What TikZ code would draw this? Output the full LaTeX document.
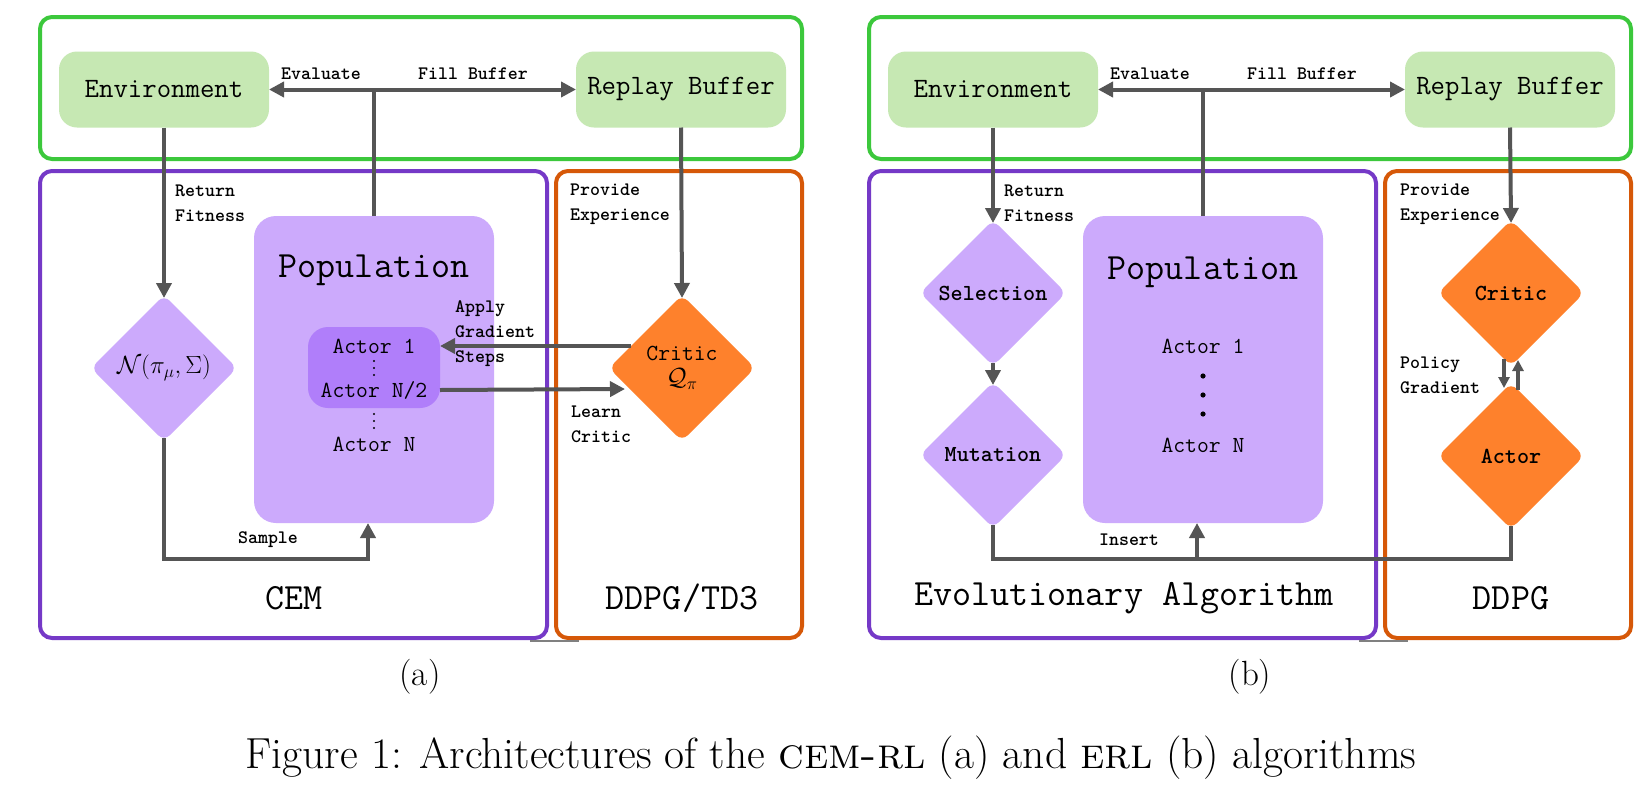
\documentclass[tikz,border=0pt]{standalone}
\usetikzlibrary{shapes.geometric,arrows.meta,calc}
\definecolor{boxgreen}{RGB}{60,200,60}
\definecolor{fillgreen}{RGB}{198,232,179}
\definecolor{boxpurple}{RGB}{117,57,199}
\definecolor{boxorange}{RGB}{214,88,8}
\definecolor{fillpurple}{RGB}{204,170,252}
\definecolor{fillpurpledark}{RGB}{176,126,250}
\definecolor{fillorange}{RGB}{254,129,44}
\definecolor{arrowgray}{RGB}{85,85,85}
\newcommand{\mono}[2]{\fontsize{#1}{#2}\selectfont\ttfamily}
\tikzset{
  panelbox/.style={line width=4pt, rounded corners=12pt},
  greenbox/.style={fill=fillgreen, rounded corners=18pt, minimum width=210pt, minimum height=76pt, inner sep=0pt, outer sep=0pt, font=\mono{28}{30}},
  popbox/.style={fill=fillpurple, rounded corners=22pt, minimum width=240pt, minimum height=307pt, inner sep=0pt, outer sep=0pt},
  innerbox/.style={fill=fillpurpledark, rounded corners=20pt, minimum width=132pt, minimum height=81pt, inner sep=0pt, outer sep=0pt},
  dia/.style={diamond, aspect=1, minimum size=146pt, inner sep=0pt, outer sep=0pt, rounded corners=8pt, align=center},
  conn/.style={draw=arrowgray, line width=4pt, -{Triangle[length=15pt,width=15pt]}},
  dconn/.style={draw=arrowgray, line width=4pt, {Triangle[length=15pt,width=15pt]}-{Triangle[length=15pt,width=15pt]}},
  sconn/.style={draw=arrowgray, line width=3.5pt, -{Triangle[length=11pt,width=11pt]}},
  plain/.style={draw=arrowgray, line width=4pt},
  todia/.style={shorten >=-3pt},
  fromdia/.style={shorten <=-3pt},
  lbl/.style={font=\mono{19}{25}\bfseries, align=left, inner sep=0pt, anchor=west},
  clbl/.style={font=\mono{19}{25}\bfseries, inner sep=0pt},
  actortxt/.style={font=\mono{23}{25}, inner sep=0pt},
  poptitle/.style={font=\mono{37}{40}, inner sep=0pt},
  paneltitle/.style={font=\mono{37}{40}, inner sep=0pt},
  captxt/.style={inner sep=0pt, anchor=base},
}
\begin{document}
\begin{tikzpicture}[x=1pt,y=-1pt]
\useasboundingbox (0,0) rectangle (1650,785);
\fill[white] (0,0) rectangle (1650,785);

% ================= panel (a) =================
\draw[panelbox, draw=boxgreen] (40,17) rectangle (802,159);
\draw[panelbox, draw=boxpurple] (40,171) rectangle (547,638);
\draw[panelbox, draw=boxorange] (556,171) rectangle (802,638);
\draw[gray, line width=1.5pt] (530,641) -- (579,641);

\node[greenbox] (envA) at (164,89.5) {Environment};
\node[greenbox] (rbA) at (681,89.5) {Replay Buffer};
\node[popbox] (popA) at (374,369.5) {};
\node[poptitle] (popAt) at (374,270) {Population};
\node[innerbox] (grpA) at (374,367.5) {};
\node[actortxt] (a1A) at (374,346) {Actor 1};
\node[actortxt] (ahA) at (374,390) {Actor N/2};
\node[actortxt] (anA) at (374,444) {Actor N};
\fill (374,361) circle (1.1pt) (374,368) circle (1.1pt) (374,375) circle (1.1pt);
\fill (374,414) circle (1.1pt) (374,421) circle (1.1pt) (374,428) circle (1.1pt);
\node[dia, fill=fillpurple, font=\fontsize{26}{30}\selectfont] (normA) at (164,368) {$\mathcal{N}(\pi_\mu,\Sigma)$};
\node[dia, fill=fillorange, font=\mono{23}{25}] (critA) at (682,368) {Critic\\$\mathcal{Q}_\pi$};

\draw[dconn] (envA.east) -- (rbA.west);
\draw[plain] (popA.north) -- (popA.north |- envA.east);
\draw[conn, todia] (envA.south) -- (normA.north);
\draw[conn, todia] (rbA.south) -- (critA.north);
\coordinate (sampA) at (368,559);
\draw[conn, fromdia] (normA.south) |- (sampA) -- (sampA |- popA.south);
\draw[conn] ($(critA.west)+(22,-22)$) -- (grpA.east |- a1A);
\draw[conn] (grpA.east |- ahA) -- ($(critA.west)+(16,21)$);

\node[clbl] (evA) at (321,74) {Evaluate};
\node[clbl] (fbA) at (473,74) {Fill Buffer};
\node[lbl] (rfA) at (175,203.5) {Return\\Fitness};
\node[lbl] (peA) at (570,204.5) {Provide\\Experience};
\node[lbl] (agA) at (455,333.5) {Apply\\Gradient\\Steps};
\node[lbl] (lcA) at (571,424) {Learn\\Critic};
\node[clbl] (smA) at (268,540) {Sample};
\node[paneltitle] (cemA) at (294,598) {CEM};
\node[paneltitle] (ddA) at (682,598) {DDPG/TD3};

% ================= panel (b) =================
\begin{scope}[xshift=829pt]
\draw[panelbox, draw=boxgreen] (40,17) rectangle (802,159);
\draw[panelbox, draw=boxpurple] (40,171) rectangle (547,638);
\draw[panelbox, draw=boxorange] (556,171) rectangle (802,638);
\draw[gray, line width=1.5pt] (530,641) -- (579,641);

\node[greenbox] (envB) at (164,89.5) {Environment};
\node[greenbox] (rbB) at (681,89.5) {Replay Buffer};
\node[popbox] (popB) at (374,369.5) {};
\node[poptitle] (popBt) at (374,272) {Population};
\node[actortxt] (a1B) at (374,346) {Actor 1};
\node[actortxt] (anB) at (374,445) {Actor N};
\fill (374,376) circle (2.6pt) (374,395) circle (2.6pt) (374,414) circle (2.6pt);
\node[dia, fill=fillpurple, font=\mono{23}{25}\bfseries] (selB) at (164,293) {Selection};
\node[dia, fill=fillpurple, font=\mono{23}{25}\bfseries] (mutB) at (164,455) {Mutation};
\node[dia, fill=fillorange, font=\mono{23}{25}\bfseries] (critB) at (682,293) {Critic};
\node[dia, fill=fillorange, font=\mono{23}{25}\bfseries] (actB) at (682,456) {Actor};

\draw[dconn] (envB.east) -- (rbB.west);
\draw[plain] (popB.north) -- (popB.north |- envB.east);
\draw[conn, todia] (envB.south) -- (selB.north);
\draw[conn, todia] (rbB.south) -- (critB.north);
\draw[conn, fromdia, todia] (selB.south) -- (mutB.north);
\draw[sconn] ($(critB.south)+(-7,-7)$) -- ($(actB.north)+(-7,5)$);
\draw[sconn] ($(actB.north)+(7,7)$) -- ($(critB.south)+(7,-6)$);
\coordinate (insB) at (368,559);
\draw[plain, fromdia, todia] (mutB.south) |- (actB.south |- insB) -- (actB.south);
\draw[conn] (insB) -- (insB |- popB.south);

\node[clbl] (evB) at (321,74) {Evaluate};
\node[clbl] (fbB) at (473,74) {Fill Buffer};
\node[lbl] (rfB) at (175,203.5) {Return\\Fitness};
\node[lbl] (peB) at (571,204.5) {Provide\\Experience};
\node[lbl] (pgB) at (571,375.5) {Policy\\Gradient};
\node[clbl] (inB) at (300,540) {Insert};
\node[paneltitle] (eaB) at (295,598) {Evolutionary Algorithm};
\node[paneltitle] (ddB) at (682,598) {DDPG};
\end{scope}

% ================= captions =================
\node[captxt, font=\fontsize{35}{40}\selectfont] (capa) at (420,685) {(a)};
\node[captxt, font=\fontsize{35}{40}\selectfont] (capb) at (1250,685) {(b)};
\node[captxt, font=\fontsize{43.5}{50}\selectfont] (capmain) at (831,768) {Figure 1: Architectures of the \textsc{cem-rl} (a) and \textsc{erl} (b) algorithms};
\end{tikzpicture}
\end{document}
